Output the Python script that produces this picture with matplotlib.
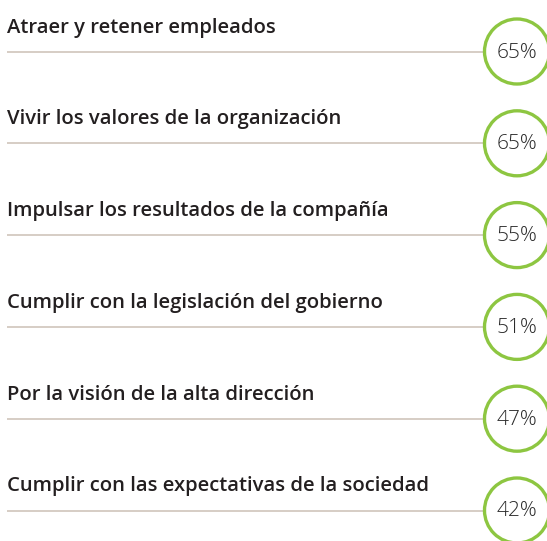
import matplotlib
matplotlib.use("Agg")
import matplotlib.pyplot as plt
from matplotlib.patches import Circle

categories = [
    "Atraer y retener empleados",
    "Vivir los valores de la organización",
    "Impulsar los resultados de la compañía",
    "Cumplir con la legislación del gobierno",
    "Por la visión de la alta dirección",
    "Cumplir con las expectativas de la sociedad",
]
values = [65, 65, 55, 51, 47, 42]

W, H = 547, 541
fig = plt.figure(figsize=(W / 100, H / 100), dpi=100)
ax = fig.add_axes([0, 0, 1, 1])
ax.set_xlim(0, W)
ax.set_ylim(H, 0)
ax.axis("off")

row0 = 51.5
step = 91.8
cx = 517
r = 32.5

for i, (cat, v) in enumerate(zip(categories, values)):
    y = row0 + i * step
    ax.plot([7, cx - r], [y, y], color="#cfc5bb", lw=1.2, solid_capstyle="butt", zorder=1)
    ax.add_patch(Circle((cx, y), r, facecolor="white", edgecolor="#8dc641", lw=2.4, zorder=2))
    ax.text(cx, y + 1, f"{v}%", ha="center", va="center", fontsize=15,
            family="Open Sans", fontweight="light", color="#2a2a2a", zorder=3)
    ax.text(7, y - 19, cat, ha="left", va="baseline", fontsize=14.6,
            family="Open Sans", fontweight="semibold", color="#231f20", zorder=3)

fig.savefig("out.png", dpi=100)
